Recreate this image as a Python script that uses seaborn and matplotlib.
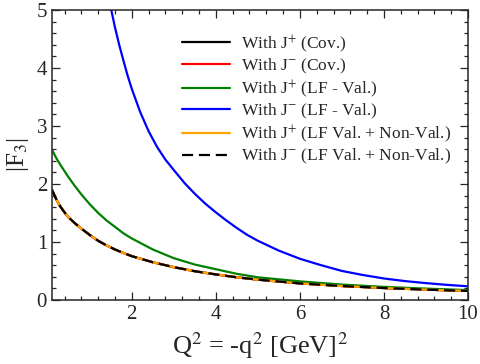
import numpy as np
import pandas as pd
import matplotlib
matplotlib.use("Agg")
import matplotlib.pyplot as plt
from matplotlib.ticker import MultipleLocator
import seaborn as sns

# ---- data ----
q2_low = [0.1, 0.2, 0.3, 0.4, 0.5, 0.65, 0.8, 1.0, 1.2, 1.4, 1.6, 1.8, 2.0, 2.5, 3.0,
          3.5, 4.0, 4.5, 5.0, 6.0, 7.0, 8.0, 9.0, 10.0]
cov_plus = [1.90, 1.74, 1.61, 1.51, 1.42, 1.32, 1.23, 1.12, 1.02, 0.94, 0.87, 0.81, 0.755,
            0.65, 0.565, 0.495, 0.44, 0.39, 0.35, 0.285, 0.24, 0.205, 0.178, 0.155]
cov_minus = cov_plus
lf_val_plus = [2.59, 2.45, 2.33, 2.22, 2.11, 1.96, 1.82, 1.65, 1.50, 1.37, 1.26, 1.15, 1.06,
               0.87, 0.72, 0.61, 0.53, 0.45, 0.39, 0.32, 0.265, 0.225, 0.195, 0.17]
q2_blue = [1.4, 1.5, 1.6, 1.7, 1.8, 1.9, 2.0, 2.2, 2.4, 2.6, 2.8, 3.0, 3.25, 3.5, 3.75,
           4.0, 4.25, 4.5, 4.75, 5.0, 5.5, 6.0, 6.5, 7.0, 7.5, 8.0, 8.5, 9.0, 9.5, 10.0]
lf_val_minus = [5.45, 5.04, 4.70, 4.40, 4.13, 3.87, 3.64, 3.24, 2.91, 2.64, 2.42, 2.24, 2.02,
                1.83, 1.66, 1.51, 1.37, 1.24, 1.12, 1.02, 0.85, 0.71, 0.60, 0.50, 0.43,
                0.37, 0.325, 0.29, 0.26, 0.235]
lf_full_plus = cov_plus
lf_full_minus = cov_plus

labels = [r"With J$^{+}$ (Cov.)",
          r"With J$^{-}$ (Cov.)",
          r"With J$^{+}$ (LF - Val.)",
          r"With J$^{-}$ (LF - Val.)",
          r"With J$^{+}$ (LF Val. + Non-Val.)",
          r"With J$^{-}$ (LF Val. + Non-Val.)"]
colors = ["black", "red", "green", "blue", "orange", "black"]

sns.set_style("ticks")
plt.rcParams["font.family"] = ["Liberation Serif", "DejaVu Serif"]
plt.rcParams["mathtext.fontset"] = "stix"

fig = plt.figure(figsize=(4.81, 3.64), dpi=100)
ax = fig.add_axes([0.108, 0.176, 0.865, 0.7965])

series = [(q2_low, cov_plus), (q2_low, cov_minus), (q2_low, lf_val_plus),
          (q2_blue, lf_val_minus), (q2_low, lf_full_plus), (q2_low, lf_full_minus)]
for i, ((x, y), lab, c) in enumerate(zip(series, labels, colors)):
    df = pd.DataFrame({"Q2": x, "F3": y})
    kw = {}
    if i == 5:
        kw = dict(linestyle=(0, (5, 2.6)))
    sns.lineplot(data=df, x="Q2", y="F3", ax=ax, color=c, lw=1.6, label=lab,
                 sort=False, **kw)

ax.set_xlim(0.1, 10)
ax.set_ylim(0, 5)
ax.xaxis.set_major_locator(MultipleLocator(2))
ax.xaxis.set_minor_locator(MultipleLocator(0.4))
ax.yaxis.set_major_locator(MultipleLocator(1))
ax.yaxis.set_minor_locator(MultipleLocator(0.2))
ax.tick_params(which="both", direction="in", top=True, right=True, labelsize=15, width=0.9)
ax.tick_params(which="major", length=6)
ax.tick_params(which="minor", length=3)
for s in ax.spines.values():
    s.set_linewidth(1.1)

ax.set_xlabel(r"Q$^2$ = -q$^2$ [GeV]$^2$", fontsize=19, labelpad=5)
ax.set_ylabel(r"|F$_3$|", fontsize=18, labelpad=4)

leg = ax.legend(loc="upper right", bbox_to_anchor=(0.975, 0.945), frameon=False,
                fontsize=12.5, handlelength=2.8, handletextpad=0.6,
                labelspacing=0.12, borderaxespad=0.0)

fig.savefig("out.png", dpi=100)
